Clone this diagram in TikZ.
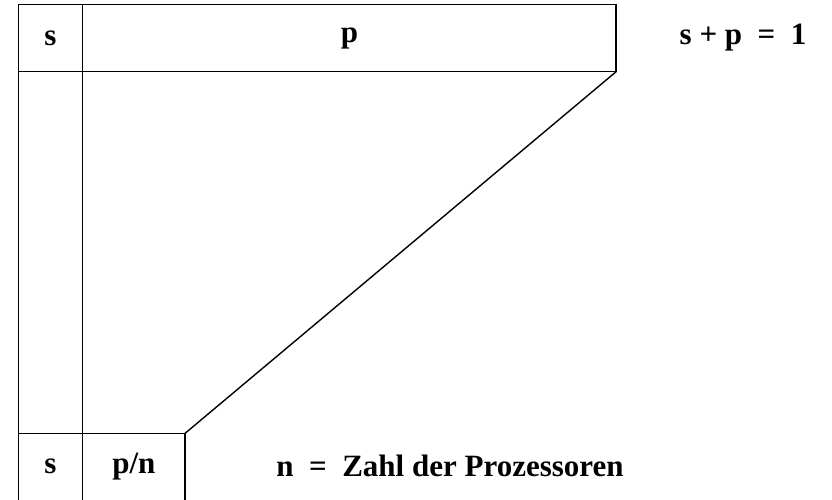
\documentclass[tikz,border=0pt]{standalone}
\usepackage{fontspec}
\setmainfont{Liberation Serif}
\usepackage{tikz}
\usetikzlibrary{positioning}

\begin{document}
\begin{tikzpicture}[
    x=1pt, y=-1pt,
    line width=1.4pt,
    cell/.style={rectangle, inner sep=0pt, font=\fontsize{31}{35}\selectfont\bfseries},
    note/.style={inner sep=0pt, font=\fontsize{31}{35}\selectfont\bfseries}
]
    \useasboundingbox (0,0) rectangle (832,499);

    % Top row: whole work
    \node (stop) [cell, minimum width=63pt, minimum height=66pt] at (50.5,38) {s};
    \node (ptop) [cell, minimum width=532pt, minimum height=66pt, right=0pt of stop] {p};

    % Bottom row: parallel run
    \node (sbot) [cell, minimum width=63pt, minimum height=65pt] at (50.5,466.5) {s};
    \node (pbot) [cell, minimum width=101pt, minimum height=65pt, right=0pt of sbot] {p/n};

    % Labels
    \node (sum) [note] at (743,38) {s + p\ \ =\ \ 1};
    \node (nproc) [note] at (450,466) {n\ \ =\ \ Zahl der Prozessoren};

    % Boxes and lines
    \draw (stop.north west) rectangle (ptop.south east);
    \draw (stop.north west) -- (sbot.south west);
    \draw (stop.north east) -- (sbot.south east);
    \draw (sbot.north west) -- (pbot.north east) -- (pbot.south east);
    \draw (ptop.south east) -- (pbot.north east);

\end{tikzpicture}
\end{document}
